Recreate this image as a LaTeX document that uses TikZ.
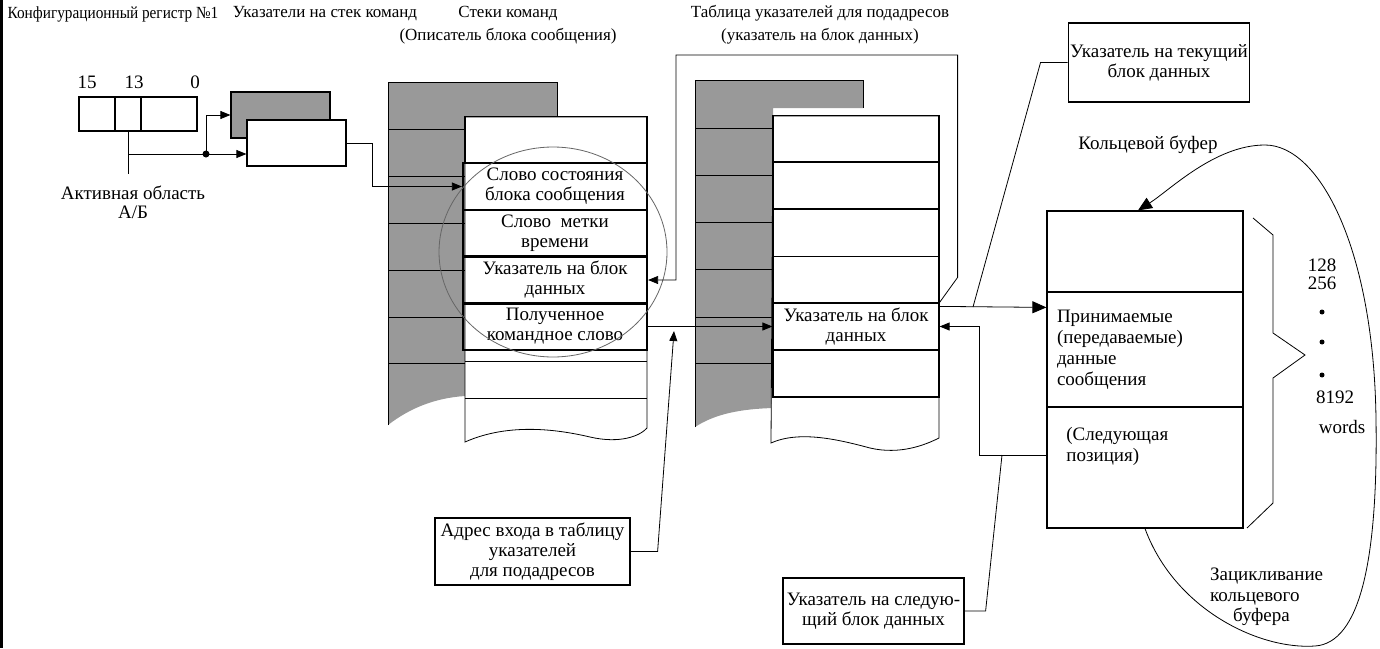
\documentclass[tikz,border=0pt]{standalone}
\usepackage{fontspec}
\setmainfont{Liberation Serif}
\newfontfamily\narrowserif[FakeStretch=0.9]{Liberation Serif}
\usetikzlibrary{arrows.meta,positioning}

\begin{document}
\begin{tikzpicture}[x=0.5pt,y=-0.5pt,font=\fontsize{9.5}{10}\selectfont]
    \tikzstyle{cell} = [draw, line width=0.6pt, inner sep=0pt, minimum height=17pt]
    \tikzstyle{ptr} = [draw, line width=0.6pt, minimum width=49.5pt, minimum height=23pt]
    \tikzstyle{row} = [draw, line width=0.6pt, inner sep=0pt, align=center, minimum height=23.5pt]
    \tikzstyle{hrow} = [row, line width=1.1pt, minimum width=92pt]
    \tikzstyle{note} = [draw, line width=0.6pt, inner sep=1pt, align=center]
    \tikzstyle{arr} = [-{Triangle[length=5pt,width=4pt]}]
    \tikzstyle{bigarr} = [-{Triangle[length=7pt,width=6pt]}]
    \tikzstyle{shade} = [fill=black!40]
    \tikzstyle{title} = [font=\fontsize{8.5}{11.5}\selectfont, align=center]

    \useasboundingbox (0,0) rectangle (1380,648);
    \fill (0,0) rectangle (3,648);

    % titles
    \node[title,font=\narrowserif\fontsize{8.5}{11.5}\selectfont] (tReg) at (113,14) {Конфигурационный регистр №1};
    \node[title] (tPtr) at (325,14) {Указатели на стек команд};
    \node[title] (tStk) at (508,25) {Стеки команд\\(Описатель блока сообщения)};
    \node[title] (tTab) at (820,25) {Таблица указателей для подадресов\\(указатель на блок данных)};

    % register
    \draw
    (97,114) node [cell,minimum width=18pt] (r15) {}
    (128,114) node [cell,minimum width=13pt] (r13) {}
    (169,114) node [cell,minimum width=28pt] (r0) {};
    \node (n15) at (87,82) {15};
    \node (n13) at (134,82) {13};
    \node (n0) at (195,82) {0};
    \node[align=center, font=\fontsize{9.5}{9.5}\selectfont] (act) at (133,202) {Активная область\\А/Б};

    \coordinate (dot) at (206,154);
    \draw (r13.south) -- ++(0,42);
    \draw (r13.south |- dot) -- (dot);
    \fill (dot) circle [radius=3.5];

    % pointers
    \node[ptr,shade] (ptrA) at (280.5,115) {};
    \node[ptr,fill=white] (ptrB) at (296.5,143) {};
    \draw[arr] (dot) -- (dot -| ptrB.west);
    \draw[arr] (dot) |- (ptrA.west);

    % command stacks
    \fill[shade] (388,425) -- (388,82) -- (557,82) -- (557,117) -- (465,117) -- (465,396)
        .. controls (435,398) and (410,408) .. (388,425);
    \draw (388,425) -- (388,82) -- (557,82) -- (557,117);
    \foreach \y in {129,176,223,270,317,363}
        \draw (388,\y) -- (465,\y);
    \draw[fill=white] (465,117) -- (647,117) -- (647,428)
        .. controls (640,436) and (620,444) .. (590,437)
        .. controls (560,430) and (510,422) .. (465,442) -- cycle;
    \node[row,minimum width=91pt] (c0) at (556,140) {};
    \node[hrow] (c1) at (555,186.5) {Слово состояния\\блока сообщения};
    \node[hrow] (c2) at (555,233.5) {Слово\ \ метки\\времени};
    \node[hrow] (c3) at (555,280) {Указатель на блок\\данных};
    \node[hrow] (c4) at (555,326.5) {Полученное\\командное слово};
    \draw (465,361) -- (647,361) (465,398) -- (647,398);
    \draw[black!60, line width=0.4pt] (553,252) ellipse [x radius=114, y radius=105];

    % table of subaddress pointers
    \fill[shade] (695,427) -- (695,80) -- (863,80) -- (863,108) -- (773,108) -- (773,408)
        .. controls (740,409) and (715,414) .. (695,427);
    \draw (695,427) -- (695,80) -- (863,80) -- (863,108);
    \foreach \y in {128,175,222,269,317,363}
        \draw (695,\y) -- (773,\y);
    \draw[fill=white] (773,116) -- (939,116) -- (939,438)
        .. controls (925,445) and (900,455) .. (870,448)
        .. controls (840,440) and (800,430) .. (771,443) -- cycle;
    \foreach \i/\y in {0/139,1/185.5,2/233,3/280,5/373.5}
        \node[row,minimum width=83pt] (t\i) at (856,\y) {};
    \node[row,minimum width=83pt] (t4) at (856,326.5) {Указатель на блок\\данных};
    \draw (773,397) -- (939,397);

    % ring buffer
    \node[row,minimum width=98pt,minimum height=40.5pt] (buf0) at (1145,251.5) {};
    \node[row,minimum width=98pt,minimum height=57.5pt,text width=88pt,align=left,
        font=\fontsize{9.5}{10.5}\selectfont] (buf1) at (1145,349.5)
        {Принимаемые\\(передаваемые)\\данные\\сообщения};
    \node[row,minimum width=98pt,minimum height=60.5pt] (buf2) at (1145,467.5) {};
    \node[anchor=north west,align=left,inner sep=0pt,font=\fontsize{9.5}{10.5}\selectfont]
        (nextpos) at (1066,427) {(Следующая\\позиция)};
    \node (kb) at (1148,145) {Кольцевой буфер};
    \draw (1253,218) -- (1273,235) -- (1273,333) -- (1305,355) -- (1273,378) -- (1273,503) -- (1247,528);
    \node (n128) at (1322,265) {128};
    \node (n256) at (1322,283) {256};
    \foreach \y in {312,342,375}
        \fill (1322,\y) circle [radius=2.5];
    \node (n8192) at (1335,397) {8192};
    \node (words) at (1342,427) {words};
    \node[anchor=west,align=left,font=\fontsize{9.5}{10.3}\selectfont] (loop) at (1203,597)
        {Зацикливание\\кольцевого\\\hspace*{11.5pt}буфера};
    \draw[bigarr] (buf2.south) .. controls (1175,610) and (1260,650) .. (1315,646)
        .. controls (1360,643) and (1378,560) .. (1376,420)
        .. controls (1374,250) and (1320,145) .. (1265,145)
        .. controls (1215,145) and (1170,190) .. ([xshift=-3.5pt]buf0.north);

    % callouts
    \node[note,minimum width=89pt,minimum height=39.5pt] (cur) at (1159,62.5) {Указатель на текущий\\блок данных};
    \node[note,minimum width=97.5pt,minimum height=33.5pt] (adr) at (532.5,551.5) {Адрес входа в таблицу\\указателей\\для подадресов};
    \node[note,minimum width=90.5pt,minimum height=33pt] (nxt) at (873.5,611) {Указатель на следую-\\щий блок данных};

    % connectors
    \draw[arr] (ptrB.east) -- ++(26,0) |- (c1.west);
    \draw[arr] (t4.north east) -- ++(18,-25) |- (676,55) |- (c3.east);
    \draw[arr] (c4.east) -- (t4.west);
    \draw[arr] (adr.east) -- ++(27,0) -- (674,331);
    \draw[bigarr] ([yshift=-2pt]t4.north east) -- ([yshift=-8pt]buf1.north west);
    \draw (cur.west) -- ++(-27,0) -- (973,307);
    \draw[arr] ([yshift=6pt]buf2.west) -| (979,326.5) -- (t4.east);
    \draw (nxt.east) -- ++(21,0) -- (1002,455);
\end{tikzpicture}
\end{document}
